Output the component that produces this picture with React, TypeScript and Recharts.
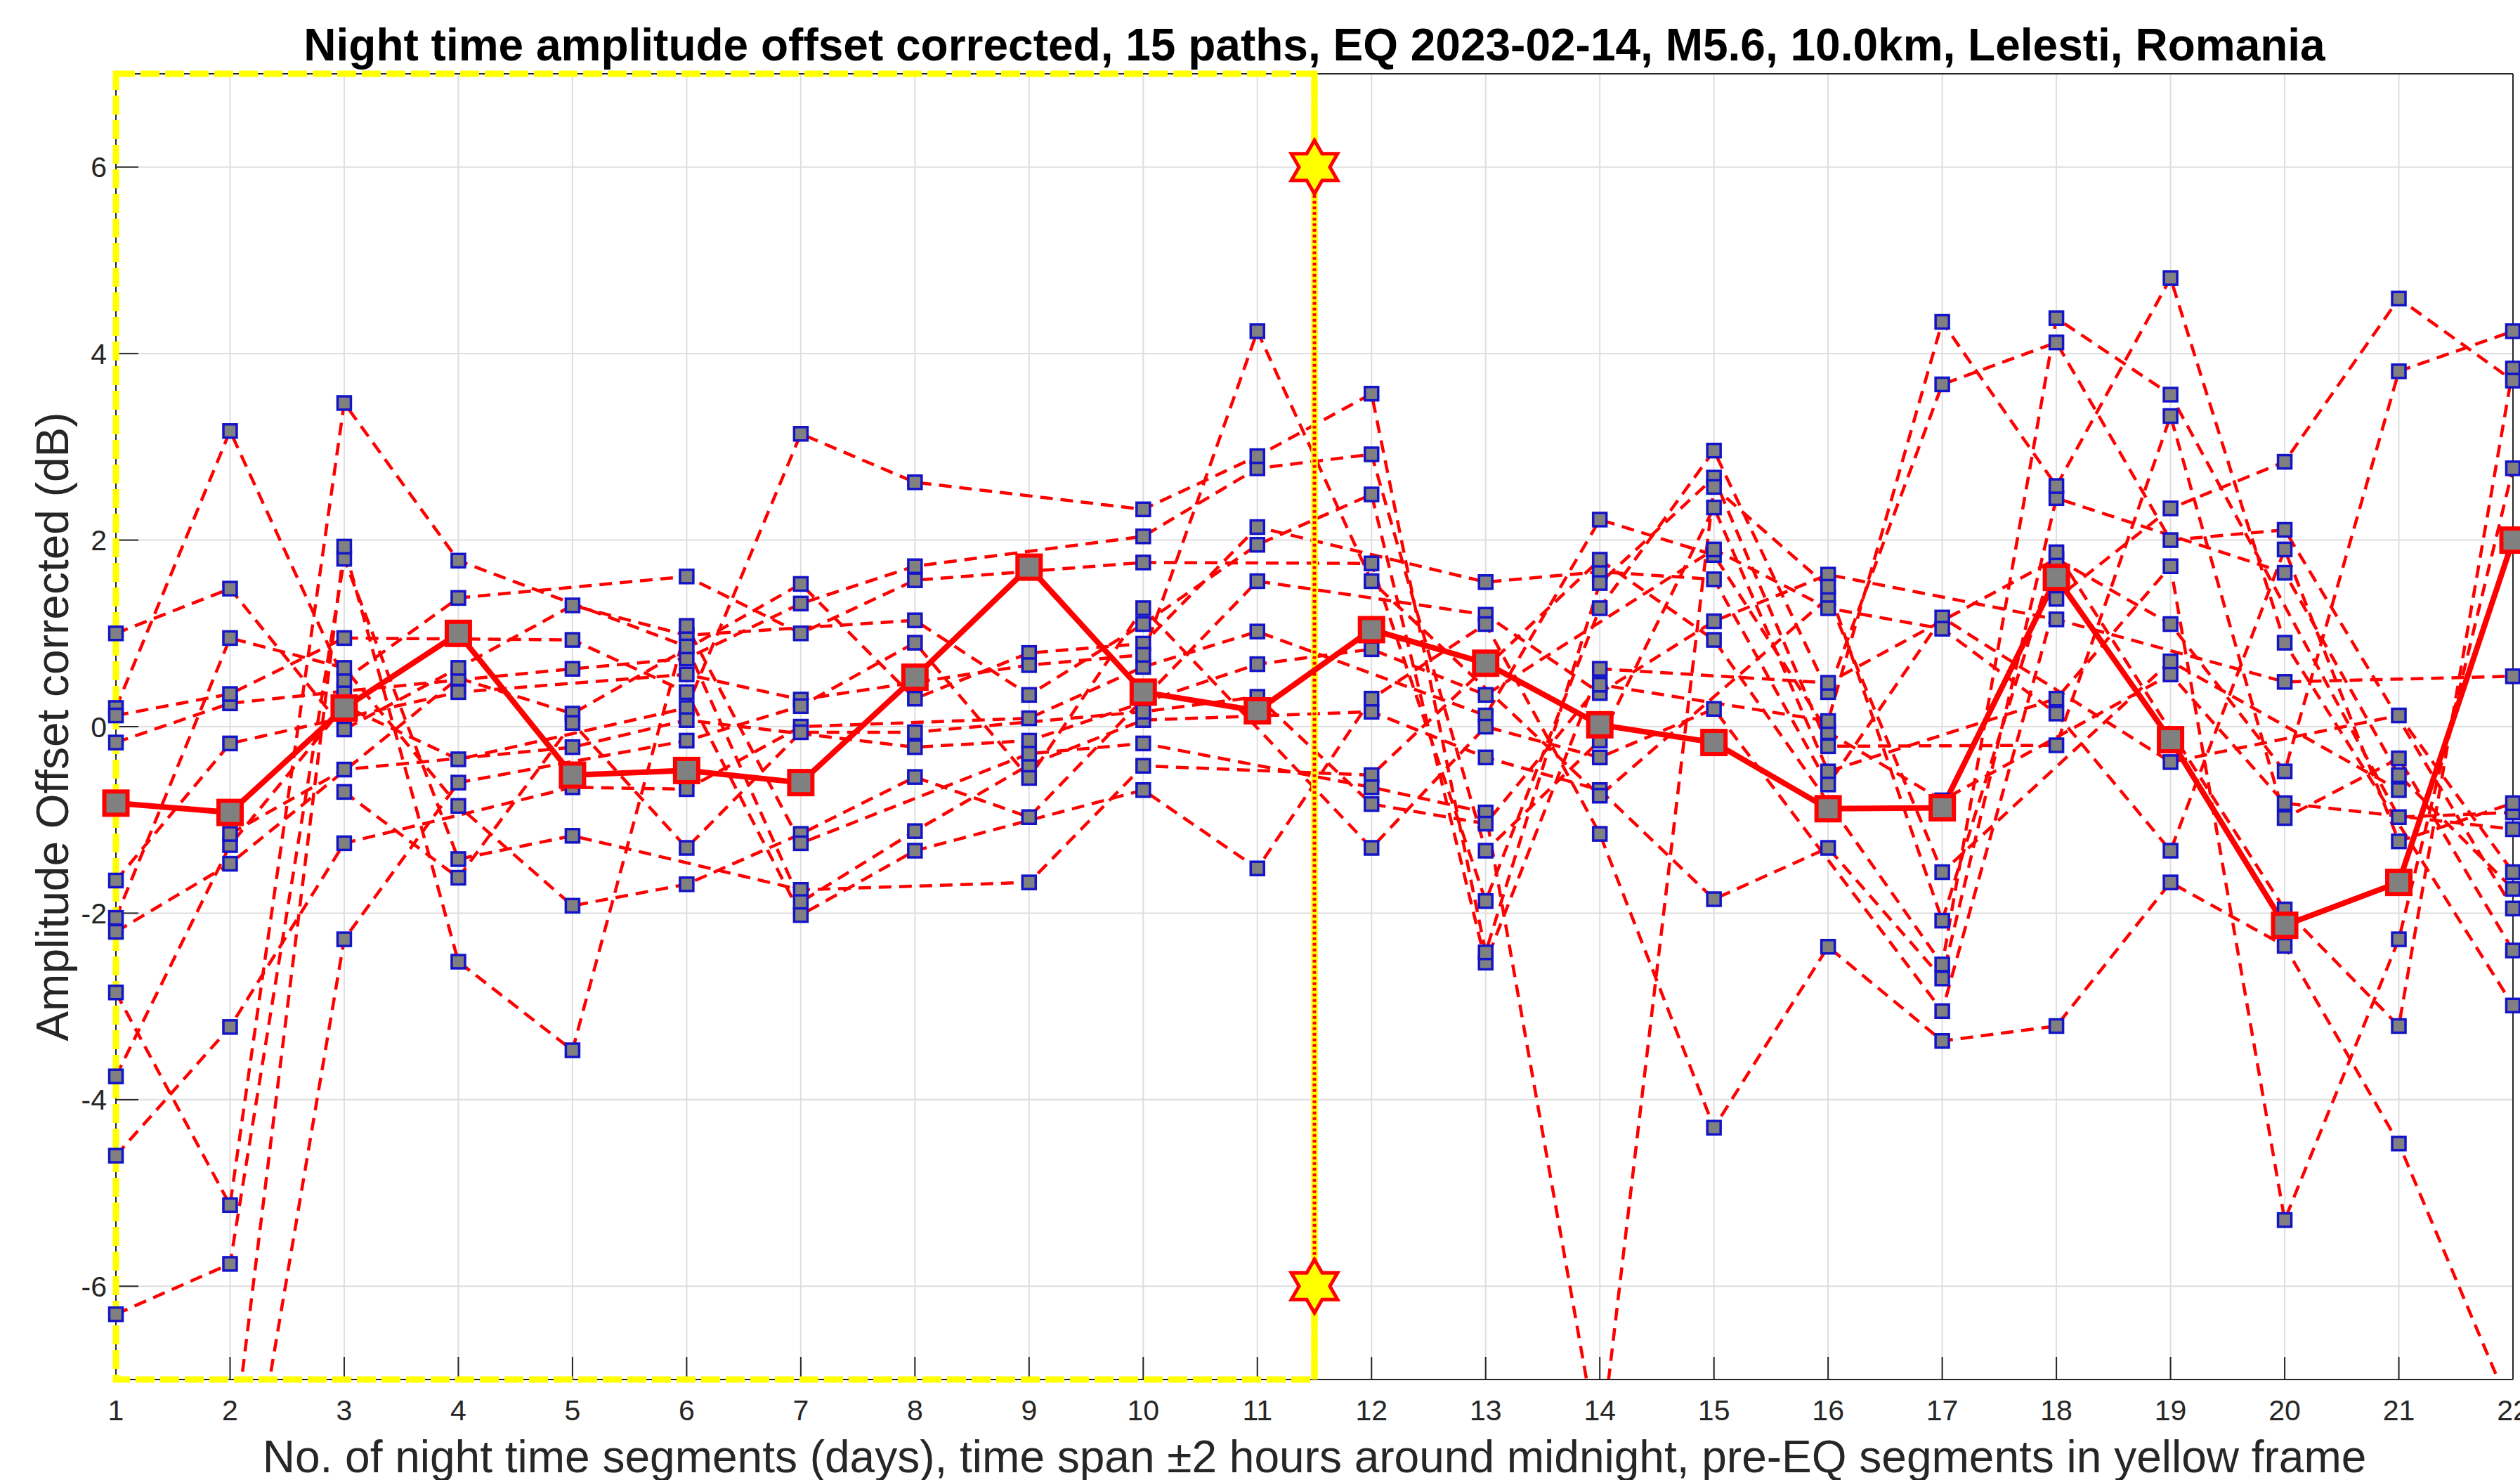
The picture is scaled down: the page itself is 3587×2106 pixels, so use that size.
import React from 'react';
import {
  ComposedChart,
  Line,
  XAxis,
  YAxis,
  CartesianGrid,
  ReferenceArea,
  ReferenceLine,
  ReferenceDot,
} from 'recharts';

// Night-time amplitude offsets for 15 VLF paths, one value per night segment.
// null = no marker visible for that path on that night; values beyond ±7 run off the plot.

const days = [1, 2, 3, 4, 5, 6, 7, 8, 9, 10, 11, 12, 13, 14, 15, 16, 17, 18, 19, 20, 21, 22];

const meanOffset = [-0.82, -0.92, 0.2, 1.0, -0.52, -0.47, -0.6, 0.53, 1.71, 0.37, 0.17, 1.04, 0.68, 0.02, -0.17, -0.88, -0.87, 1.6, -0.14, -2.13, -1.67, 2.0];

const path01 = [-0.17, 0.25, 0.38, null, 0.62, 0.73, 1.32, 1.72, null, 2.04, 2.77, 2.92, -1.33, -0.15, 2.35, -0.48, null, 0.3, 1.72, -5.29, -2.28, 2.77];
const path02 = [-2.2, -1.47, null, 0.52, 0.14, null, 1.53, 0.3, 0.79, 0.89, 2.14, null, 1.55, 1.66, 1.58, -0.62, 1.17, null, -0.38, null, 0.12, -1.56];
const path03 = [0.2, 3.17, 0.5, 1.38, null, 1.61, 1.0, 1.57, null, 1.76, null, 1.75, -1.87, 1.27, 2.96, 0.37, 3.67, 4.12, 2.0, 2.11, null, -1.95];
const path04 = [1.0, 1.48, -0.03, 0.63, 1.3, 0.98, null, 1.14, 0.34, 1.1, 1.95, 2.49, -2.53, 0.62, null, 0.47, null, 1.8, 1.1, -0.48, 3.81, 4.24];
const path05 = [-2.05, 0.95, 0.63, -0.85, -1.92, -1.69, -1.15, -0.54, -0.97, null, 1.56, null, 1.2, 0.36, 1.13, 1.63, null, 1.15, null, 0.48, null, 0.54];
const path06 = [-6.3, -5.76, 1.8, -1.42, -1.17, null, -1.75, null, -1.67, -0.42, null, -0.52, null, 1.79, 0.93, null, -2.55, 4.38, 3.56, null, -0.97, -0.92];
const path07 = [-4.6, -3.22, -1.25, null, -0.65, -0.67, 0.0, null, 0.09, 0.64, 1.02, null, 0.12, 2.22, 1.84, -0.06, -0.79, null, 0.56, -0.82, null, -1.1];
const path08 = [-2.85, -5.13, 3.47, 1.78, null, 0.86, -1.88, -1.12, -0.41, 0.07, null, 0.16, -0.33, -0.68, -1.85, -1.3, -2.7, 2.45, null, 1.65, -0.52, -1.74];
const path09 = [-3.75, -1.27, 0.22, -0.35, null, 0.2, 3.14, 2.62, null, 2.33, 2.9, 3.57, -2.42, 1.54, 2.67, -0.21, null, -0.2, 3.33, -0.98, -0.34, -2.4];
const path10 = [-1.65, -0.18, null, 0.37, null, 0.56, 0.29, null, 0.66, 0.77, 4.24, 1.56, null, -0.74, null, 1.38, -1.56, null, 0.7, null, -0.68, null];
const path11 = [0.12, 0.35, 0.95, null, 0.93, 0.37, -2.02, -1.33, null, -0.68, -1.52, 0.3, 1.1, -1.15, -4.3, -2.36, -3.37, -3.21, -1.67, -2.35, -4.47, -7.38];
const path12 = [null, -1.15, -0.46, null, -0.22, 0.07, null, -0.22, -0.15, null, 0.67, 0.83, 0.34, null, 1.9, 1.27, 1.05, 0.14, -1.33, 1.9, -1.23, -0.82];
const path13 = [null, -8.0, 1.93, -2.52, -3.47, 1.08, -1.25, null, -0.29, -0.18, null, -0.65, -0.92, -7.8, 2.57, 1.5, -2.08, 1.87, null, -1.96, -3.21, 3.84];
const path14 = [null, -9.5, -2.28, -0.6, null, -0.15, 0.22, 0.9, -0.55, 1.27, null, -1.3, 0.0, -0.33, 0.19, null, -3.05, 1.37, 2.34, 2.84, 4.59, 3.71];
const path15 = [null, null, -0.7, -1.62, 0.04, -1.3, -0.06, -0.06, null, 0.16, 0.32, -0.83, -1.04, 0.45, null, 0.06, 4.34, 2.58, 4.81, 0.9, null, -2.99];

const yTicks = [-6, -4, -2, 0, 2, 4, 6];
const yRange: [number, number] = [-7, 7];
const xRange: [number, number] = [1, 22];
const preEqStart = 1;
const eqDay = 11.5;
const starLevels = [6, -6];

const TITLE = 'Night time amplitude offset corrected, 15 paths, EQ 2023-02-14, M5.6, 10.0km, Lelesti, Romania';
const X_LABEL = 'No. of night time segments (days), time span \u00b12 hours around midnight, pre-EQ segments in yellow frame';
const Y_LABEL = 'Amplitude Offset corrected (dB)';

const paths = [path01, path02, path03, path04, path05, path06, path07, path08, path09, path10, path11, path12, path13, path14, path15];

const FONT = '"Liberation Sans", Arial, Helvetica, sans-serif';
const AXIS = '#262626';
const W = 3587;
const H = 2106;

// p{k}: full series for the dashed line (clipped); m{k}: in-range values for the unclipped markers.
const rows = days.map((day, i) => {
  const row: Record<string, number | null> = { day, mean: meanOffset[i] };
  paths.forEach((p, k) => {
    const v = p[i];
    row[`p${k}`] = v;
    row[`m${k}`] = v != null && v >= yRange[0] && v <= yRange[1] ? v : null;
  });
  return row;
});

function pathMarker(props: any) {
  const { cx, cy, value, index, dataKey } = props;
  const key = `pm-${dataKey}-${index}`;
  if (cx == null || cy == null || value == null) return <g key={key} />;
  const s = 19;
  return (
    <rect key={key} x={cx - s / 2} y={cy - s / 2} width={s} height={s} fill="#808080" stroke="#1414c8" strokeWidth={3.5} />
  );
}

function meanMarker(props: any) {
  const { cx, cy, value, index } = props;
  const key = `mm-${index}`;
  if (cx == null || cy == null || value == null) return <g key={key} />;
  const s = 33;
  return (
    <rect key={key} x={cx - s / 2} y={cy - s / 2} width={s} height={s} fill="#808080" stroke="#ff0000" strokeWidth={6} />
  );
}

// MATLAB-style hexagram marker.
function hexagram(props: any) {
  const { cx, cy } = props;
  if (cx == null || cy == null) return <g />;
  const R = 38;
  const r = R / Math.sqrt(3);
  const pts: string[] = [];
  for (let i = 0; i < 12; i++) {
    const a = ((-90 + i * 30) * Math.PI) / 180;
    const rad = i % 2 === 0 ? R : r;
    pts.push(`${cx + rad * Math.cos(a)},${cy + rad * Math.sin(a)}`);
  }
  return <polygon points={pts.join(' ')} fill="#ffff00" stroke="#ff0000" strokeWidth={5} strokeLinejoin="miter" />;
}

export default function App() {
  const tickStyle = { fontSize: 41, fill: AXIS, fontFamily: FONT };
  const lineStyle = { stroke: AXIS, strokeWidth: 2 };

  return (
    <div style={{ position: 'absolute', left: 0, top: 0, width: W, height: H, background: '#fff', fontFamily: FONT }}>
      <div
        style={{
          position: 'absolute',
          left: 0,
          width: 2 * 1871,
          top: 32,
          lineHeight: '64px',
          fontSize: 64,
          fontWeight: 'bold',
          textAlign: 'center',
          color: '#000',
          whiteSpace: 'nowrap',
        }}
      >
        {TITLE}
      </div>
      <ComposedChart width={W} height={H} data={rows} margin={{ top: 104, right: 0, bottom: 0, left: 0 }}>
        <CartesianGrid xAxisId="x" yAxisId="lines" stroke="#dedede" strokeWidth={2} />
        <XAxis
          xAxisId="x"
          dataKey="day"
          type="number"
          domain={xRange}
          ticks={days}
          interval={0}
          height={143}
          tick={tickStyle}
          tickSize={-32}
          tickMargin={61}
          axisLine={lineStyle}
          tickLine={lineStyle}
        />
        <XAxis
          xAxisId="top"
          orientation="top"
          dataKey="day"
          type="number"
          domain={xRange}
          ticks={days}
          interval={0}
          height={1}
          tick={false}
          tickSize={-32}
          axisLine={lineStyle}
          tickLine={lineStyle}
        />
        <YAxis
          yAxisId="lines"
          type="number"
          domain={yRange}
          allowDataOverflow
          ticks={yTicks}
          interval={0}
          width={165}
          tick={tickStyle}
          tickSize={-32}
          tickMargin={45}
          axisLine={lineStyle}
          tickLine={lineStyle}
        />
        <YAxis yAxisId="marks" type="number" domain={yRange} hide />
        <YAxis
          yAxisId="right"
          orientation="right"
          type="number"
          domain={yRange}
          ticks={yTicks}
          interval={0}
          width={10}
          tick={false}
          tickSize={-32}
          axisLine={lineStyle}
          tickLine={lineStyle}
        />

        <ReferenceArea
          xAxisId="x"
          yAxisId="lines"
          x1={preEqStart}
          x2={eqDay}
          y1={yRange[0]}
          y2={yRange[1]}
          fill="none"
          stroke="#ffff00"
          strokeWidth={9}
          strokeDasharray="27 8"
          ifOverflow="visible"
          zIndex={550}
        />

        {paths.flatMap((_, k) => [
          <Line
            key={`line-${k}`}
            xAxisId="x"
            yAxisId="lines"
            type="linear"
            dataKey={`p${k}`}
            stroke="#ff0000"
            strokeWidth={4.5}
            strokeDasharray="18 11"
            dot={false}
            activeDot={false}
            connectNulls
            isAnimationActive={false}
          />,
          <Line
            key={`mark-${k}`}
            xAxisId="x"
            yAxisId="marks"
            type="linear"
            dataKey={`m${k}`}
            stroke="none"
            dot={pathMarker}
            activeDot={false}
            isAnimationActive={false}
          />,
        ])}

        <ReferenceLine xAxisId="x" yAxisId="lines" x={eqDay} stroke="#ffff00" strokeWidth={9} zIndex={560} />
        <ReferenceLine
          xAxisId="x"
          yAxisId="marks"
          segment={[
            { x: eqDay, y: starLevels[0] },
            { x: eqDay, y: starLevels[1] },
          ]}
          stroke="#ff0000"
          strokeWidth={5}
          strokeDasharray="4 4"
          zIndex={570}
        />

        <Line
          xAxisId="x"
          yAxisId="marks"
          type="linear"
          dataKey="mean"
          stroke="#ff0000"
          strokeWidth={8}
          dot={meanMarker}
          activeDot={false}
          isAnimationActive={false}
          zIndex={580}
        />

        {starLevels.map((lv) => (
          <ReferenceDot
            key={`star-${lv}`}
            xAxisId="x"
            yAxisId="marks"
            x={eqDay}
            y={lv}
            shape={hexagram}
            ifOverflow="visible"
            zIndex={600}
          />
        ))}
      </ComposedChart>
      <div
        style={{
          position: 'absolute',
          left: 0,
          width: 2 * 1871,
          top: 2041,
          lineHeight: '64px',
          fontSize: 64,
          textAlign: 'center',
          color: AXIS,
          whiteSpace: 'nowrap',
        }}
      >
        {X_LABEL}
      </div>
      <div
        style={{
          position: 'absolute',
          left: 75 - 600,
          width: 1200,
          top: 1034 - 32,
          lineHeight: '64px',
          fontSize: 64,
          textAlign: 'center',
          color: AXIS,
          whiteSpace: 'nowrap',
          transform: 'rotate(-90deg)',
        }}
      >
        {Y_LABEL}
      </div>
    </div>
  );
}
